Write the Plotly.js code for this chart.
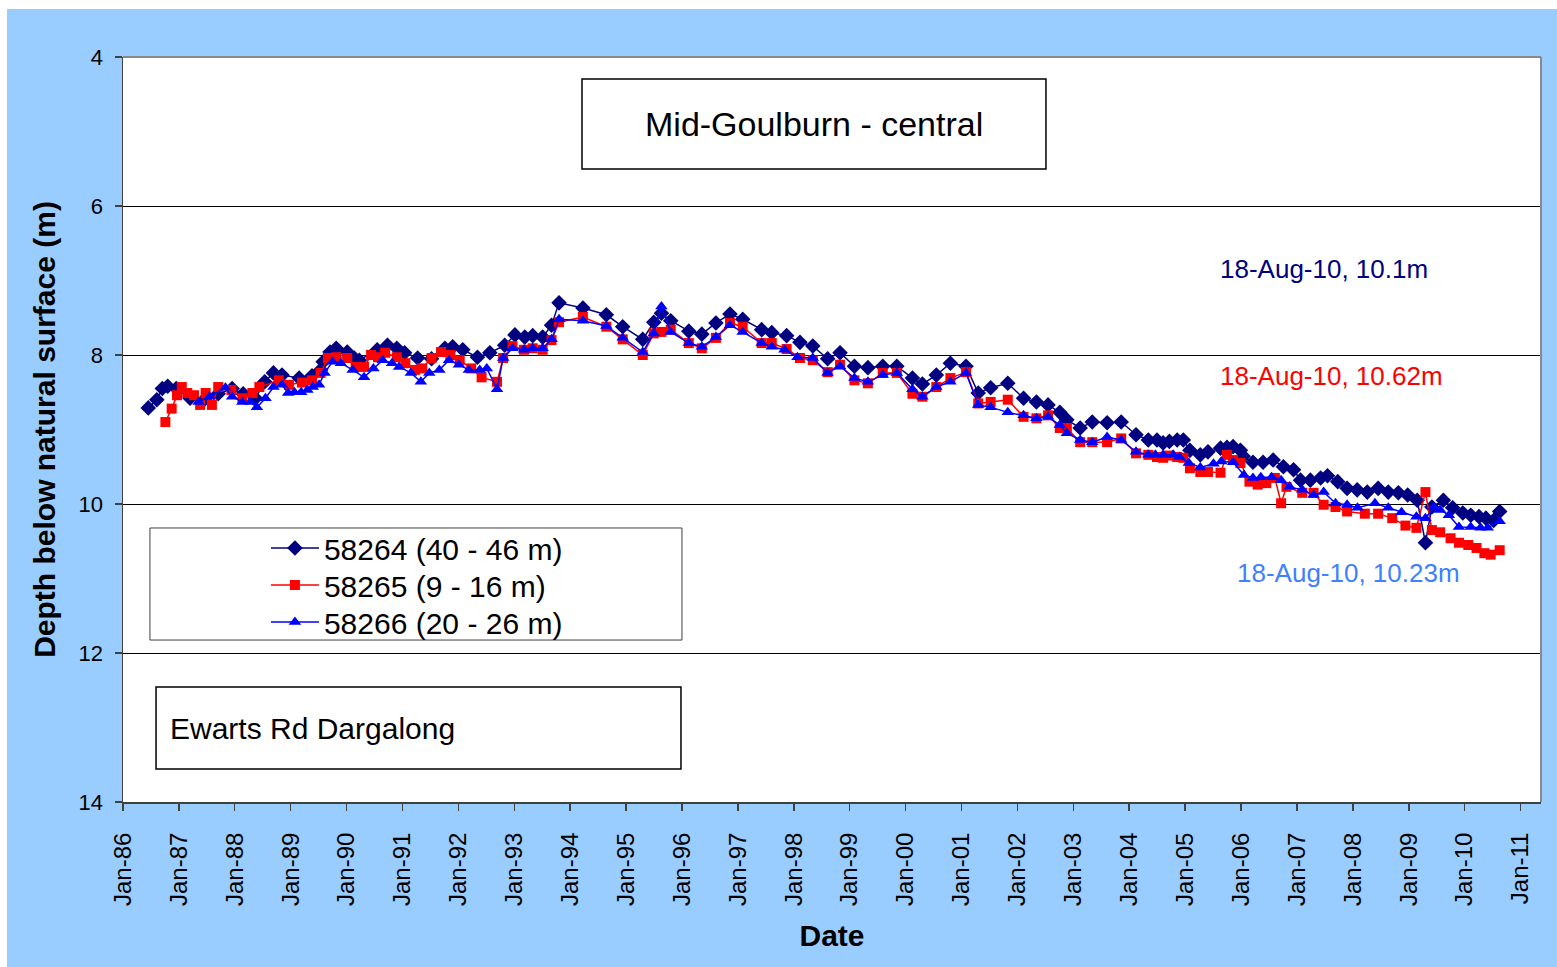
<!DOCTYPE html>
<html>
<head>
<meta charset="utf-8">
<script src="https://cdn.plot.ly/plotly-3.0.1.min.js"></script>
<style>
  html, body { margin: 0; padding: 0; background: #ffffff; }
  #chart { position: absolute; left: 7px; top: 9px; width: 1550px; height: 958px; }
</style>
</head>
<body>
<div id="chart"></div>
<script>
// ---- Data (depth below natural surface, m) ----
const dates58264 = ['1986-06-15','1986-08-10','1986-09-15','1986-10-20','1986-12-15','1987-03-15','1987-06-15','1987-09-15','1987-12-15','1988-02-25','1988-05-15','1988-07-15','1988-09-10','1988-11-05','1989-02-25','1989-05-20','1989-07-15','1989-08-01','1989-09-15','1989-10-25','1990-01-05','1990-02-20','1990-03-25','1990-07-20','1990-09-25','1990-11-25','1991-01-15','1991-04-10','1991-07-10','1991-10-05','1991-11-25','1992-01-30','1992-05-05','1992-07-25','1992-10-30','1993-01-05','1993-03-10','1993-05-01','1993-07-05','1993-09-01','1993-10-20','1994-03-25','1994-08-25','1994-12-10','1995-04-20','1995-07-01','1995-08-20','1995-10-20','1996-02-15','1996-05-10','1996-08-10','1996-11-10','1997-02-01','1997-06-05','1997-08-10','1997-11-15','1998-02-10','1998-05-05','1998-08-10','1998-10-30','1999-02-01','1999-04-30','1999-08-05','1999-11-05','2000-02-15','2000-04-20','2000-07-20','2000-10-20','2001-01-30','2001-04-20','2001-07-10','2001-10-30','2002-02-10','2002-05-05','2002-07-20','2002-10-05','2002-11-20','2003-02-15','2003-05-05','2003-08-10','2003-11-10','2004-02-15','2004-05-05','2004-07-01','2004-08-10','2004-09-20','2004-11-10','2004-12-20','2005-02-01','2005-04-10','2005-05-30','2005-08-20','2005-10-01','2005-11-10','2005-12-28','2006-01-15','2006-03-20','2006-05-25','2006-07-30','2006-10-05','2006-12-10','2007-01-25','2007-03-30','2007-06-05','2007-07-20','2007-09-25','2007-11-25','2008-01-30','2008-04-05','2008-06-15','2008-08-20','2008-10-25','2008-12-25','2009-02-25','2009-04-20','2009-06-01','2009-08-15','2009-10-15','2009-12-20','2010-02-10','2010-04-05','2010-05-20','2010-07-10','2010-08-18'];
const depth58264 = [8.71,8.60,8.45,8.42,8.45,8.58,8.60,8.52,8.45,8.52,8.58,8.36,8.24,8.27,8.31,8.28,8.20,8.09,7.96,7.91,7.96,8.04,8.07,7.93,7.87,7.91,7.97,8.04,8.05,7.91,7.89,7.93,8.03,7.97,7.87,7.73,7.76,7.74,7.76,7.60,7.30,7.37,7.46,7.62,7.79,7.56,7.44,7.54,7.68,7.72,7.57,7.45,7.52,7.66,7.70,7.74,7.83,7.88,8.05,7.97,8.15,8.17,8.15,8.15,8.31,8.39,8.27,8.11,8.15,8.51,8.44,8.38,8.58,8.63,8.67,8.77,8.87,8.98,8.90,8.91,8.90,9.07,9.14,9.14,9.18,9.16,9.14,9.14,9.28,9.34,9.30,9.25,9.24,9.23,9.28,9.36,9.44,9.44,9.41,9.50,9.54,9.68,9.68,9.65,9.62,9.70,9.79,9.81,9.84,9.79,9.84,9.85,9.88,9.95,10.52,10.04,9.95,10.05,10.12,10.15,10.17,10.19,10.22,10.10];

const dates58265 = ['1986-10-05','1986-11-15','1986-12-20','1987-01-20','1987-02-25','1987-04-10','1987-05-20','1987-06-25','1987-08-05','1987-09-15','1987-12-10','1988-02-20','1988-04-25','1988-06-10','1988-10-15','1988-12-20','1989-03-15','1989-05-20','1989-07-15','1989-09-01','1989-10-25','1990-01-05','1990-03-01','1990-04-25','1990-06-10','1990-07-25','1990-09-10','1990-11-25','1991-01-20','1991-03-25','1991-05-10','1991-07-10','1991-09-10','1991-11-10','1992-01-10','1992-03-25','1992-06-01','1992-09-10','1992-10-20','1992-12-20','1993-03-05','1993-05-01','1993-07-05','1993-09-01','1993-10-20','1994-03-25','1994-08-25','1994-12-10','1995-04-20','1995-07-01','1995-08-20','1995-10-20','1996-02-15','1996-05-10','1996-08-10','1996-11-10','1997-02-01','1997-06-05','1997-08-10','1997-11-15','1998-02-10','1998-05-05','1998-08-10','1998-10-30','1999-02-01','1999-04-30','1999-08-05','1999-11-05','2000-02-15','2000-04-20','2000-07-20','2000-10-20','2001-01-30','2001-04-20','2001-07-10','2001-10-30','2002-02-10','2002-05-05','2002-07-20','2002-10-05','2002-11-20','2003-02-15','2003-05-05','2003-08-10','2003-11-10','2004-02-15','2004-05-05','2004-07-01','2004-08-10','2004-09-20','2004-11-10','2004-12-20','2005-02-01','2005-04-10','2005-05-30','2005-08-20','2005-10-01','2005-11-10','2005-12-28','2006-02-25','2006-04-20','2006-06-15','2006-08-10','2006-09-20','2006-10-25','2007-02-05','2007-04-20','2007-06-25','2007-09-10','2007-11-25','2008-03-20','2008-06-15','2008-09-15','2008-12-10','2009-02-20','2009-04-20','2009-06-01','2009-07-25','2009-10-01','2009-11-25','2010-01-25','2010-03-20','2010-05-10','2010-06-20','2010-08-18'];
const depth58265 = [8.90,8.72,8.54,8.43,8.51,8.54,8.67,8.51,8.67,8.43,8.47,8.58,8.51,8.43,8.34,8.40,8.37,8.34,8.24,8.04,8.03,8.04,8.16,8.16,8.00,8.03,7.97,8.03,8.11,8.20,8.18,8.04,7.96,8.00,8.07,8.18,8.30,8.36,8.04,7.88,7.93,7.91,7.93,7.80,7.56,7.49,7.62,7.79,8.00,7.71,7.69,7.66,7.84,7.91,7.77,7.57,7.62,7.84,7.84,7.92,8.04,8.07,8.23,8.13,8.34,8.38,8.24,8.24,8.52,8.56,8.43,8.31,8.23,8.65,8.63,8.60,8.83,8.85,8.81,8.98,8.98,9.17,9.17,9.17,9.12,9.32,9.34,9.37,9.38,9.35,9.37,9.38,9.52,9.57,9.57,9.58,9.34,9.41,9.45,9.70,9.74,9.72,9.65,9.99,9.77,9.85,9.85,10.01,10.04,10.10,10.13,10.13,10.19,10.29,10.32,9.84,10.35,10.38,10.46,10.52,10.55,10.59,10.66,10.68,10.62];

const dates58266 = ['1987-05-10','1987-07-20','1987-11-01','1987-12-15','1988-02-20','1988-04-10','1988-05-25','1988-07-20','1988-09-10','1988-11-05','1988-12-15','1989-01-25','1989-03-10','1989-04-20','1989-05-25','1989-07-05','1989-08-10','1989-10-01','1989-11-25','1990-02-10','1990-04-25','1990-06-25','1990-08-25','1990-10-25','1990-12-10','1991-02-25','1991-05-01','1991-06-25','1991-08-30','1991-11-01','1992-01-05','1992-03-10','1992-05-20','1992-07-05','1992-09-10','1992-10-20','1992-12-20','1993-03-05','1993-05-01','1993-07-05','1993-09-01','1993-10-20','1994-03-25','1994-08-25','1994-12-10','1995-04-20','1995-07-01','1995-08-20','1995-10-20','1996-02-15','1996-05-10','1996-08-10','1996-11-10','1997-02-01','1997-06-05','1997-08-10','1997-11-01','1998-01-25','1998-05-05','1998-08-10','1998-10-30','1999-02-01','1999-04-30','1999-08-05','1999-11-05','2000-02-15','2000-04-20','2000-07-20','2000-10-20','2001-01-30','2001-04-20','2001-07-10','2001-10-30','2002-02-10','2002-05-05','2002-07-20','2002-10-05','2002-11-20','2003-02-15','2003-05-05','2003-08-10','2003-11-10','2004-02-15','2004-05-05','2004-06-20','2004-08-10','2004-10-15','2004-11-25','2005-01-25','2005-04-10','2005-07-05','2005-08-25','2005-11-10','2006-01-20','2006-03-20','2006-05-10','2006-07-20','2006-09-20','2006-11-15','2007-02-05','2007-04-20','2007-06-25','2007-09-10','2007-11-25','2008-02-01','2008-05-25','2008-08-20','2008-11-15','2009-02-20','2009-04-20','2009-06-15','2009-07-25','2009-09-20','2009-11-25','2010-02-10','2010-04-15','2010-06-01','2010-08-18'];
const depth58266 = [8.63,8.56,8.44,8.56,8.63,8.63,8.70,8.58,8.43,8.40,8.51,8.50,8.50,8.47,8.43,8.40,8.24,8.09,8.11,8.20,8.30,8.18,8.07,8.11,8.16,8.24,8.36,8.24,8.20,8.07,8.13,8.20,8.20,8.18,8.46,8.04,7.91,7.93,7.91,7.91,7.79,7.52,7.54,7.61,7.77,7.96,7.71,7.35,7.69,7.84,7.89,7.76,7.60,7.69,7.84,7.89,7.93,8.03,8.04,8.24,8.15,8.31,8.36,8.27,8.24,8.46,8.56,8.43,8.36,8.24,8.67,8.70,8.77,8.81,8.85,8.83,8.94,9.05,9.14,9.17,9.10,9.14,9.30,9.34,9.34,9.34,9.34,9.37,9.45,9.51,9.46,9.43,9.44,9.61,9.65,9.64,9.64,9.68,9.77,9.81,9.88,9.84,9.99,10.01,10.05,9.99,10.05,10.11,10.17,10.19,10.04,10.08,10.15,10.31,10.31,10.32,10.32,10.23];

const seriesNames = ['58264 (40 - 46 m)', '58265 (9 - 16 m)', '58266 (20 - 26 m)'];
const tickYears = [1986,1987,1988,1989,1990,1991,1992,1993,1994,1995,1996,1997,1998,1999,2000,2001,2002,2003,2004,2005,2006,2007,2008,2009,2010,2011];
const tickDates = tickYears.map(y => y + '-01-01');
const tickLabels = tickYears.map(y => 'Jan-' + String(y % 100).padStart(2, '0'));
const yTicks = [4, 6, 8, 10, 12, 14];

const FONT = 'Liberation Sans, Arial, sans-serif';

const traces = [
  { x: dates58264, y: depth58264, name: seriesNames[0], type: 'scatter', mode: 'lines+markers', legend: 'legend',
    line: { color: '#000080', width: 1.5 }, marker: { symbol: 'diamond', size: 12, color: '#000080' } },
  { x: dates58265, y: depth58265, name: seriesNames[1], type: 'scatter', mode: 'lines+markers', legend: 'legend2',
    line: { color: '#FF0000', width: 1.5 }, marker: { symbol: 'square', size: 10, color: '#FF0000' } },
  { x: dates58266, y: depth58266, name: seriesNames[2], type: 'scatter', mode: 'lines+markers', legend: 'legend3',
    line: { color: '#0000FF', width: 1.5 }, marker: { symbol: 'triangle-up', size: 11, color: '#0000FF' } }
];

function legendAt(yc) {
  return {
    x: 0.1008, y: yc, xanchor: 'left', yanchor: 'middle',
    bgcolor: 'rgba(0,0,0,0)', borderwidth: 0, itemwidth: 48,
    font: { size: 30, family: FONT, color: '#000' }
  };
}

const layout = {
  width: 1550, height: 958,
  paper_bgcolor: '#99CCFF', plot_bgcolor: '#FFFFFF',
  margin: { l: 116, r: 16, t: 48, b: 165 },
  font: { family: FONT, color: '#000' },
  showlegend: true,
  legend: legendAt(0.3409),
  legend2: legendAt(0.2913),
  legend3: legendAt(0.2416),
  xaxis: {
    type: 'date', range: ['1986-01-01', '2011-05-15'],
    tickmode: 'array', tickvals: tickDates, ticktext: tickLabels,
    tickangle: -90, tickfont: { size: 24, family: FONT },
    ticks: 'outside', ticklen: 7, tickcolor: '#404040', tickwidth: 1.5,
    ticklabelstandoff: 12,
    showline: true, linecolor: '#404040', linewidth: 2,
    showgrid: false, zeroline: false,
    title: { text: '<b>Date</b>', font: { size: 30, family: FONT }, standoff: 20 }
  },
  yaxis: {
    range: [14, 4], tickmode: 'array', tickvals: yTicks,
    tickfont: { size: 22, family: FONT },
    ticks: 'outside', ticklen: 7, tickcolor: '#404040', tickwidth: 1.5,
    ticklabelstandoff: 7,
    showline: true, linecolor: '#404040', linewidth: 1.5,
    showgrid: true, gridcolor: '#000000', gridwidth: 1,
    zeroline: false,
    title: { text: '<b>Depth below natural surface (m)</b>', font: { size: 30, family: FONT }, standoff: 14 }
  },
  shapes: [
    { type: 'line', xref: 'paper', yref: 'paper', x0: 0, x1: 1, y0: 1, y1: 1, line: { color: '#888888', width: 2 } },
    { type: 'line', xref: 'paper', yref: 'paper', x0: 1, x1: 1, y0: 0, y1: 1, line: { color: '#888888', width: 2 } },
    { type: 'rect', xref: 'paper', yref: 'paper', x0: 0.3237, x1: 0.6509, y0: 0.8497, y1: 0.9705,
      line: { color: '#000000', width: 1.5 }, fillcolor: '#FFFFFF', layer: 'above' },
    { type: 'rect', xref: 'paper', yref: 'paper', x0: 0.0190, x1: 0.3942, y0: 0.2174, y1: 0.3678,
      line: { color: '#404040', width: 1 }, fillcolor: '#FFFFFF', layer: 'below' },
    { type: 'rect', xref: 'paper', yref: 'paper', x0: 0.0233, x1: 0.3935, y0: 0.0443, y1: 0.1544,
      line: { color: '#000000', width: 1.5 }, fillcolor: '#FFFFFF', layer: 'above' }
  ],
  annotations: [
    { xref: 'paper', yref: 'paper', x: 0.4873, y: 0.9101, xanchor: 'center', yanchor: 'middle', showarrow: false,
      text: 'Mid-Goulburn - central', font: { size: 34, family: FONT, color: '#000' } },
    { xref: 'paper', yref: 'paper', x: 0.0318, y: 0.0993, xanchor: 'left', yanchor: 'middle', showarrow: false,
      text: 'Ewarts Rd Dargalong', font: { size: 30, family: FONT, color: '#000' } },
    { xref: 'paper', yref: 'paper', x: 0.7722, y: 0.7154, xanchor: 'left', yanchor: 'middle', showarrow: false,
      text: '18-Aug-10, 10.1m', font: { size: 26, family: FONT, color: '#000080' } },
    { xref: 'paper', yref: 'paper', x: 0.7722, y: 0.5718, xanchor: 'left', yanchor: 'middle', showarrow: false,
      text: '18-Aug-10, 10.62m', font: { size: 26, family: FONT, color: '#FF0000' } },
    { xref: 'paper', yref: 'paper', x: 0.7842, y: 0.3074, xanchor: 'left', yanchor: 'middle', showarrow: false,
      text: '18-Aug-10, 10.23m', font: { size: 26, family: FONT, color: '#4080FF' } }
  ]
};

Plotly.newPlot('chart', traces, layout, { displayModeBar: false, staticPlot: true });
</script>
</body>
</html>
